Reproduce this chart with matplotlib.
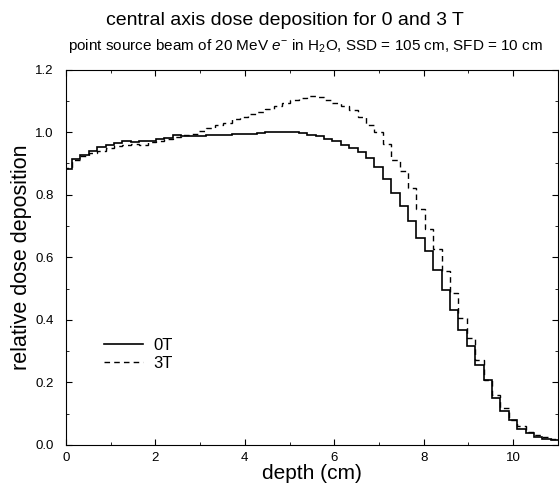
import numpy as np
import matplotlib
matplotlib.use("Agg")
import matplotlib.pyplot as plt

plt.rcParams['font.family'] = ['Liberation Sans', 'DejaVu Sans']
plt.rcParams['mathtext.fontset'] = 'custom'
plt.rcParams['mathtext.rm'] = 'Liberation Sans'
plt.rcParams['mathtext.it'] = 'Liberation Sans:italic'

# histogram bins along depth (cm)
bin_width = 0.188
first_edge = -0.058
n_bins = 59

# relative dose per bin, 0 T
dose_0t = [0.882, 0.914, 0.928, 0.941, 0.952, 0.960, 0.965, 0.971, 0.968, 0.971,
           0.972, 0.978, 0.981, 0.990, 0.988, 0.988, 0.987, 0.990, 0.990, 0.990,
           0.993, 0.995, 0.995, 0.998, 1.000, 1.002, 1.002, 1.000, 0.997, 0.992,
           0.987, 0.978, 0.971, 0.960, 0.950, 0.937, 0.917, 0.890, 0.850, 0.805,
           0.763, 0.715, 0.661, 0.619, 0.558, 0.494, 0.430, 0.368, 0.315, 0.254,
           0.208, 0.150, 0.107, 0.080, 0.050, 0.037, 0.024, 0.018, 0.015]

# relative dose per bin, 3 T
dose_3t = [0.885, 0.910, 0.925, 0.935, 0.940, 0.950, 0.955, 0.958, 0.962, 0.960,
           0.968, 0.972, 0.978, 0.985, 0.990, 0.995, 1.003, 1.012, 1.024, 1.030,
           1.042, 1.050, 1.059, 1.066, 1.074, 1.085, 1.094, 1.102, 1.110, 1.116,
           1.112, 1.103, 1.093, 1.083, 1.070, 1.050, 1.024, 1.000, 0.963, 0.912,
           0.875, 0.821, 0.755, 0.690, 0.627, 0.555, 0.485, 0.405, 0.341, 0.272,
           0.208, 0.160, 0.117, 0.080, 0.059, 0.041, 0.032, 0.025, 0.020]

edges = first_edge + bin_width * np.arange(n_bins + 1)

fig = plt.figure(figsize=(5.6, 4.84), dpi=100)
ax = fig.add_axes([0.118, 0.081, 0.878, 0.775])

ax.stairs(dose_0t, edges, color='black', linewidth=1.2, label='0T', baseline=None)
ax.stairs(dose_3t, edges, color='black', linewidth=1.0, linestyle=(0, (4, 3)),
          label='3T', baseline=None)

ax.set_xlim(0, 11)
ax.set_ylim(0, 1.2)
ax.set_xticks([0, 2, 4, 6, 8, 10])
ax.set_xticks([1, 3, 5, 7, 9], minor=True)
ax.set_yticks([0.0, 0.2, 0.4, 0.6, 0.8, 1.0, 1.2])
ax.set_yticks(np.arange(1, 12, 2) / 10, minor=True)
ax.set_yticklabels(['0.0', '0.2', '0.4', '0.6', '0.8', '1.0', '1.2'])
ax.tick_params(which='both', direction='in', top=True, right=True, labelsize=9.5)
ax.tick_params(which='major', length=4)
ax.tick_params(which='minor', length=2.5)
ax.tick_params(axis='x', pad=5)
ax.tick_params(axis='y', pad=9)

ax.set_xlabel('depth (cm)', fontsize=15, labelpad=0)
ax.set_ylabel('relative dose deposition', fontsize=15.5, labelpad=2)

ax.legend(loc='upper left', bbox_to_anchor=(0.077, 0.285), frameon=False,
          fontsize=12, handlelength=2.35, handletextpad=0.6, labelspacing=0.2,
          borderpad=0, borderaxespad=0)

fig.text(0.509, 0.958, 'central axis dose deposition for 0 and 3 T',
         ha='center', va='center', fontsize=14)
fig.text(0.545, 0.905,
         'point source beam of 20 MeV $e^{-}$ in H$_2$O, SSD = 105 cm, SFD = 10 cm',
         ha='center', va='center', fontsize=11)

fig.savefig('out.png', dpi=100)
